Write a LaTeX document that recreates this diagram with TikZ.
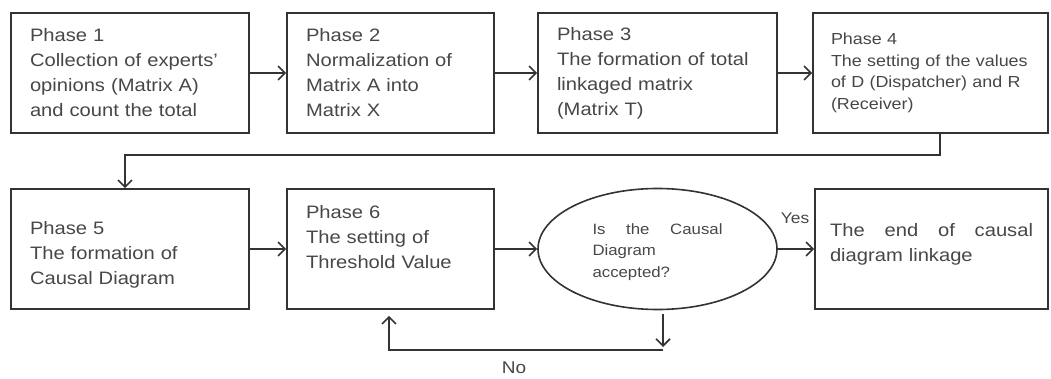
\documentclass[tikz,border=0pt]{standalone}
\usepackage{fontspec}
\setmainfont{Liberation Sans}[FakeStretch=1.12]
\usetikzlibrary{arrows.meta,shapes.geometric,calc}
\definecolor{linec}{HTML}{333333}
\definecolor{textc}{HTML}{474747}
\tikzset{
  box/.style={draw=linec, line width=1.6pt, rectangle, minimum height=120pt,
    inner xsep=19pt, inner ysep=4pt, align=left, text=textc,
    font=\fontsize{18pt}{25pt}\selectfont},
  smallbox/.style={box, font=\fontsize{16pt}{21.5pt}\selectfont},
  decision/.style={draw=linec, line width=1.6pt, ellipse, minimum width=239pt,
    minimum height=121pt, inner sep=0pt, align=left, text=textc, text width=130pt,
    font=\fontsize{15pt}{21.5pt}\selectfont},
  arr/.style={draw=linec, line width=1.6pt,
    -{Straight Barb[length=7pt,width=14pt,line width=1.6pt]}},
  lbl/.style={text=textc, inner sep=0pt}
}
\begin{document}
\begin{tikzpicture}[x=1pt,y=-1pt]
\useasboundingbox (0,0) rectangle (1051,379);
% row 1
\node[box, minimum width=238pt, text width=200pt] (b1) at (130,73)
  {Phase 1\\Collection of experts'\\opinions (Matrix A)\\and count the total};
\node[box, minimum width=207pt, text width=169pt] (b2) at (390.5,73)
  {Phase 2\\Normalization of\\Matrix A into\\Matrix X};
\node[box, minimum width=239pt, text width=201pt] (b3) at (657.5,73)
  {Phase 3\\The formation of total\\linkaged matrix\\(Matrix T)};
\node[smallbox, minimum width=235pt, text width=199pt, inner xsep=18pt] (b4) at (930.5,73)
  {Phase 4\\The setting of the values\\of D (Dispatcher) and R\\(Receiver)};
% row 2
\node[box, minimum width=238pt, text width=200pt, text height=24pt] (b5) at (130,249)
  {Phase 5\\The formation of\\Causal Diagram};
\node[box, minimum width=207pt, text width=169pt] (b6) at (390.5,249)
  {Phase 6\\The setting of\\Threshold Value\\\mbox{}};
\node[decision, text height=17pt] (e) at (657.5,249)
  {\hbox to 130pt{Is\hfill the\hfill Causal}\\Diagram\\accepted?};
\node[box, minimum width=233pt, text width=203pt, inner xsep=15pt] (b7) at (931.5,249)
  {\hbox to 203pt{The\hfill end\hfill of\hfill causal}\\diagram linkage\\[-12pt]\mbox{}};
% labels
\node[lbl, font=\fontsize{15.5pt}{18pt}\selectfont] (yes) at (795,218) {Yes};
\node[lbl, font=\fontsize{17pt}{20pt}\selectfont] (no) at (514,368) {No};
% connectors
\draw[arr] (b1) -- (b2);
\draw[arr] (b2) -- (b3);
\draw[arr] (b3) -- (b4);
\draw[arr] ([xshift=9.5pt]b4.south) -- ++(0,21) -| ([xshift=-5pt]b5.north);
\draw[arr] (b5) -- (b6);
\draw[arr] (b6) -- (e);
\draw[arr] (e) -- (b7);
\coordinate (n1) at (663,350);
\draw[arr] (e.south -| n1) ++(0,4) -- ([yshift=3pt]n1);
\draw[arr] (n1) -| ([xshift=-1.5pt,yshift=-6pt]b6.south);
\end{tikzpicture}
\end{document}
